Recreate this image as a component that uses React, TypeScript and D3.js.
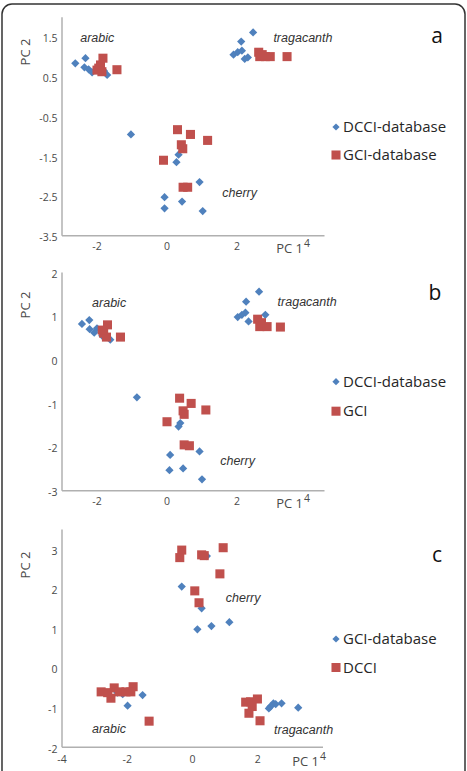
import React from 'react';
import * as d3 from 'd3';

// PCA scores, [PC 1, PC 2]
const dcciDatabaseA = [
  [-2.62, 0.84], [-2.33, 0.97], [-2.36, 0.74], [-2.24, 0.69], [-2.14, 0.61], [-1.8, 0.65], [-1.71, 0.55],
  [-1.03, -0.95], [0.33, -1.46], [0.27, -1.65], [0.93, -2.15], [-0.07, -2.53], [-0.07, -2.81], [0.43, -2.64],
  [1.02, -2.88], [2.46, 1.62], [2.12, 1.39], [1.9, 1.06], [2.02, 1.12], [2.14, 1.16], [2.22, 0.95], [2.31, 0.99],
];
const gciDatabaseA = [
  [-1.83, 0.97], [-1.95, 0.72], [-2.0, 0.67], [-1.86, 0.63], [-1.9, 0.8], [-1.43, 0.68], [0.3, -0.83],
  [0.67, -0.95], [1.16, -1.1], [0.41, -1.21], [0.45, -1.31], [-0.1, -1.6], [0.46, -2.28], [0.59, -2.28],
  [2.62, 1.12], [2.65, 1.01], [2.81, 1.01], [2.95, 1.01], [3.43, 1.01], [2.72, 1.06],
];

const dcciDatabaseB = [
  [-2.43, 0.82], [-2.22, 0.91], [-2.21, 0.7], [-2.08, 0.62], [-2.0, 0.72], [-1.85, 0.55], [-1.62, 0.46],
  [-0.86, -0.86], [0.38, -1.45], [0.33, -1.53], [0.93, -2.1], [0.09, -2.18], [0.07, -2.53], [0.46, -2.49],
  [1.0, -2.74], [2.63, 1.56], [2.26, 1.33], [2.02, 0.98], [2.14, 1.03], [2.24, 1.08], [2.33, 0.88], [2.81, 1.03],
];
const gciB = [
  [-1.7, 0.8], [-1.81, 0.61], [-1.73, 0.52], [-1.85, 0.68], [-1.33, 0.52], [0.36, -0.88], [0.69, -1.0],
  [1.11, -1.15], [0.46, -1.17], [0.49, -1.25], [0.0, -1.42], [0.49, -1.95], [0.64, -1.97],
  [2.59, 0.93], [2.65, 0.76], [2.86, 0.76], [3.24, 0.75], [2.7, 0.85],
];

const gciDatabaseC = [
  [0.44, 2.83], [-0.33, 2.06], [0.28, 1.51], [0.15, 0.98], [0.58, 1.06], [1.13, 1.16],
  [-1.99, -0.95], [-1.53, -0.68], [-2.14, -0.66], [-2.3, -0.62],
  [2.39, -0.97], [2.48, -0.89], [2.34, -1.02], [2.73, -0.89], [3.24, -1.0], [2.55, -0.91],
];
const dcciC = [
  [-0.33, 2.98], [-0.39, 2.79], [0.28, 2.86], [0.36, 2.84], [0.94, 3.04], [0.84, 2.38], [0.07, 1.95], [0.2, 1.65],
  [-2.8, -0.6], [-2.4, -0.5], [-2.5, -0.76], [-2.24, -0.6], [-2.04, -0.6], [-1.82, -0.47], [-1.89, -0.6],
  [-2.6, -0.62], [-1.33, -1.34], [1.63, -0.86], [1.78, -0.85], [1.99, -0.78], [1.73, -1.14], [1.83, -0.97], [2.07, -1.33],
];

const xTicksAB = [-2, 0, 2, 4];
const xTicksC = [-4, -2, 0, 2, 4];
const yTicksA = [-3.5, -2.5, -1.5, -0.5, 0.5, 1.5];
const yTicksB = [-3, -2, -1, 0, 1, 2];
const yTicksC = [-2, -1, 0, 1, 2, 3];

const BLUE = '#4f81bd';
const RED = '#c0504d';
const AXIS = '#b0b0b0';
const TICK = '#4a4a4a';
const FONT = '"Open Sans", sans-serif';

const panels = [
  {
    letter: 'a', diamonds: dcciDatabaseA, squares: gciDatabaseA,
    names: ['DCCI-database', 'GCI-database'],
    xDomain: [-3, 4.5], xRange: [62, 324.5], xTicks: xTicksAB,
    yDomain: [-3.5, 2], yRange: [235.7, 17.3], yTicks: yTicksA, tickGap: 11,
    legendY: 127, legendGap: 28, letterPos: [437, 37],
    labels: [['arabic', -2.48, 1.45], ['tragacanth', 3.04, 1.45], ['cherry', 1.58, -2.45]],
    pc2Y: 52,
  },
  {
    letter: 'b', diamonds: dcciDatabaseB, squares: gciB,
    names: ['DCCI-database', 'GCI'],
    xDomain: [-3, 4.5], xRange: [62, 324.5], xTicks: xTicksAB,
    yDomain: [-3, 2], yRange: [490.7, 272.5], yTicks: yTicksB, tickGap: 11,
    legendY: 381.7, legendGap: 29.5, letterPos: [435, 294],
    labels: [['arabic', -2.14, 1.28], ['tragacanth', 3.16, 1.3], ['cherry', 1.52, -2.33]],
    pc2Y: 305,
  },
  {
    letter: 'c', diamonds: gciDatabaseC, squares: dcciC,
    names: ['GCI-database', 'DCCI'],
    xDomain: [-4, 4], xRange: [62, 323], xTicks: xTicksC,
    yDomain: [-2, 3.5], yRange: [747.3, 529.5], yTicks: yTicksC, tickGap: 13,
    legendY: 639, legendGap: 28.5, letterPos: [437, 556],
    labels: [['cherry', 1.02, 1.76], ['tragacanth', 2.5, -1.58], ['arabic', -3.08, -1.56]],
    pc2Y: 565,
  },
];

const diamondPath = d3.symbol(d3.symbolSquare, 34)();
const squarePath = d3.symbol(d3.symbolSquare, 82)();
const legendDiamond = d3.symbol(d3.symbolSquare, 26)();
const legendSquare = d3.symbol(d3.symbolSquare, 82)();

function Panel({ p }) {
  const x = d3.scaleLinear().domain(p.xDomain).range(p.xRange);
  const y = d3.scaleLinear().domain(p.yDomain).range(p.yRange);
  const [x0, x1] = p.xRange;
  const [yb, yt] = p.yRange;
  const lastTick = p.xTicks[p.xTicks.length - 1];

  return (
    <g>
      {/* axes */}
      <line x1={x0} x2={x0} y1={yb} y2={yt} stroke={AXIS} strokeWidth={1.5} />
      <line x1={x0} x2={x1} y1={yb} y2={yb} stroke={AXIS} strokeWidth={1.5} />

      {p.yTicks.map(t => (
        <text key={t} x={57.5} y={y(t) + 2.5} textAnchor="end" dominantBaseline="middle"
          fontFamily={FONT} fontSize={10.5} fill={TICK}>{t}</text>
      ))}
      {p.xTicks.map(t => (
        <text key={t} x={x(t)} y={yb + p.tickGap - (t === lastTick ? 3 : 0)} textAnchor="middle"
          dominantBaseline="middle" fontFamily={FONT} fontSize={10.5} fill={TICK}>{t}</text>
      ))}
      <text x={x(lastTick) - 4} y={yb + p.tickGap + 2.5} textAnchor="end" dominantBaseline="middle"
        fontFamily={FONT} fontSize={13} fill={TICK}>PC 1</text>
      <text transform={`translate(27,${p.pc2Y}) rotate(-90)`} textAnchor="middle" dominantBaseline="middle"
        fontFamily={FONT} fontSize={13} fill={TICK}>PC 2</text>

      {p.labels.map(([name, lx, ly]) => (
        <text key={name} x={x(lx)} y={y(ly)} dominantBaseline="middle" fontStyle="italic"
          fontFamily='"Liberation Sans", Arial, sans-serif' fontSize={12.5} fill="#333">{name}</text>
      ))}

      {p.diamonds.map(([dx, dy], i) => (
        <path key={'d' + i} d={diamondPath} fill={BLUE}
          transform={`translate(${x(dx)},${y(dy)}) rotate(45)`} />
      ))}
      {p.squares.map(([sx, sy], i) => (
        <path key={'s' + i} d={squarePath} fill={RED} transform={`translate(${x(sx)},${y(sy)})`} />
      ))}

      {/* legend */}
      <path d={legendDiamond} fill={BLUE} transform={`translate(336,${p.legendY}) rotate(45)`} />
      <text x={343} y={p.legendY + 1} dominantBaseline="middle" fontFamily={FONT} fontSize={15} fill="#262626">
        {p.names[0]}
      </text>
      <path d={legendSquare} fill={RED} transform={`translate(336,${p.legendY + p.legendGap})`} />
      <text x={343} y={p.legendY + p.legendGap + 1} dominantBaseline="middle" fontFamily={FONT} fontSize={15}
        fill="#262626">{p.names[1]}</text>

      <text x={p.letterPos[0]} y={p.letterPos[1]} textAnchor="middle" dominantBaseline="middle"
        fontFamily={FONT} fontSize={21} fill="#111">{p.letter}</text>
    </g>
  );
}

export default function App() {
  return (
    <svg width={467} height={771} style={{ position: 'absolute', left: 0, top: 0, background: '#fff' }}>
      <rect x={2} y={4} width={463} height={800} rx={10} ry={10} fill="#fff" stroke="#333" strokeWidth={1.5} />
      {panels.map(p => <Panel key={p.letter} p={p} />)}
    </svg>
  );
}
